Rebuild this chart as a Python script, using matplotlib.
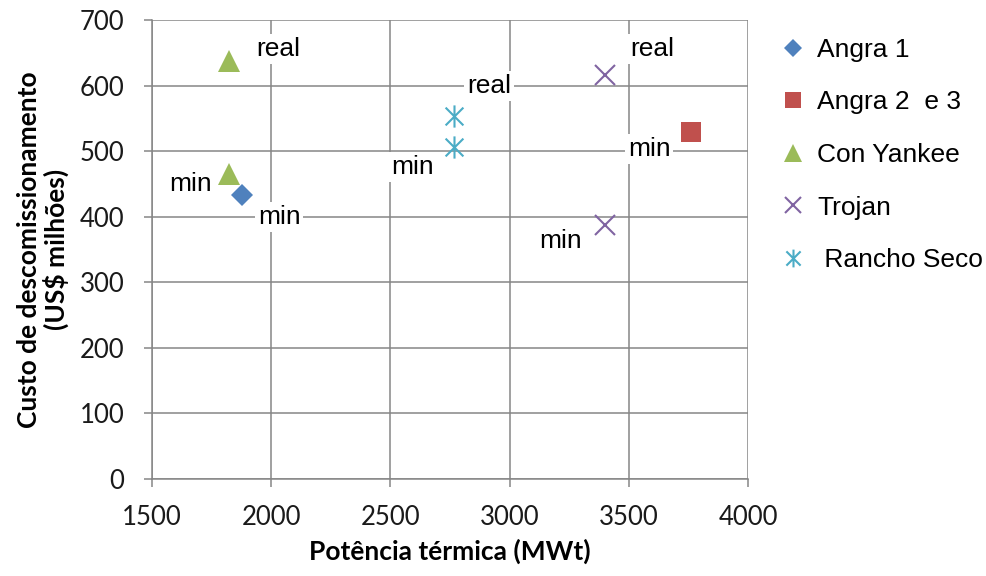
import numpy as np
import matplotlib
matplotlib.use("Agg")
import matplotlib.pyplot as plt
from matplotlib.path import Path

# data: thermal power (MWt) vs decommissioning cost (US$ millions)
series_names = ["Angra 1", "Angra 2  e 3", "Con Yankee", "Trojan", " Rancho Seco"]
power_mwt = [[1876], [3760], [1825, 1825], [3400, 3400], [2768, 2768]]
cost_musd = [[433], [529], [637, 465], [616, 388], [553, 506]]
point_labels = [["min"], ["min"], ["real", "min"], ["real", "min"], ["real", "min"]]

x_ticks = [1500, 2000, 2500, 3000, 3500, 4000]
y_ticks = [0, 100, 200, 300, 400, 500, 600, 700]

# label offsets from their point, in points
label_offsets = [[(27, -16)], [(-30, -12)], [(35, 9), (-28, -7)],
                 [(34, 19), (-32, -12)], [(25, 22), (-30, -14)]]

# excel-like asterisk: vertical bar plus an x
star = Path([(0, -1), (0, 1), (-0.8, -0.8), (0.8, 0.8), (-0.8, 0.8), (0.8, -0.8)],
            [Path.MOVETO, Path.LINETO, Path.MOVETO, Path.LINETO, Path.MOVETO, Path.LINETO])

styles = [
    dict(marker="D", color="#4F81BD", ms=11.5, mew=0),
    dict(marker="s", color="#C0504D", ms=15, mew=0),
    dict(marker="^", color="#9BBB59", ms=16, mew=0),
    dict(marker="x", color="#8064A2", ms=15, mew=1.5),
    dict(marker=star, color="#4BACC6", ms=16, mew=1.5),
]

grid_gray = "#868686"

fig = plt.figure(figsize=(9.86, 5.76), dpi=100)
ax = fig.add_axes([152 / 986, 1 - 479 / 576, 596 / 986, 459 / 576])

handles = []
for name, xs, ys, labs, offs, st in zip(series_names, power_mwt, cost_musd,
                                         point_labels, label_offsets, styles):
    h, = ax.plot(xs, ys, linestyle="none", label=name, zorder=4, **st)
    handles.append(h)
    for x, y, lab, (dx, dy) in zip(xs, ys, labs, offs):
        ax.annotate(lab, (x, y), xytext=(dx, dy), textcoords="offset points",
                    ha="center", va="center", fontsize=19, family="Liberation Sans",
                    color="black", zorder=5,
                    bbox=dict(facecolor="white", edgecolor="none", pad=2))

ax.set_xlim(1500, 4000)
ax.set_ylim(0, 700)
ax.set_xticks(x_ticks)
ax.set_yticks(y_ticks)
ax.grid(True, color=grid_gray, linewidth=1.1)
ax.set_axisbelow(True)
for s in ["top", "right"]:
    ax.spines[s].set_visible(False)
for s in ["left", "bottom"]:
    ax.spines[s].set_color(grid_gray)
    ax.spines[s].set_linewidth(1.1)
ax.tick_params(direction="out", length=5.8, width=1.1, color=grid_gray,
               labelsize=18.5, labelcolor="#1a1a1a")
ax.tick_params(axis="x", pad=13)
ax.tick_params(axis="y", pad=14)
for t in ax.get_xticklabels() + ax.get_yticklabels():
    t.set_family("Lato")

ax.set_xlabel("Potência térmica (MWt)", fontsize=19, fontweight="bold",
              family="Lato", labelpad=6)
ax.set_ylabel("Custo de descomissionamento\n(US$ milhões)", fontsize=19,
              fontweight="bold", family="Lato", linespacing=1.07)
ax.yaxis.set_label_coords(-0.139, 0.5)

fig.legend(handles=handles, loc="upper left", bbox_to_anchor=(780 / 986, 1 - 38 / 576),
           frameon=False, prop=dict(family="Liberation Sans", size=19),
           handlelength=1.0, handletextpad=0.4, labelspacing=1.08,
           borderpad=0, borderaxespad=0, markerscale=0.8)

fig.savefig("out.png", dpi=100)
